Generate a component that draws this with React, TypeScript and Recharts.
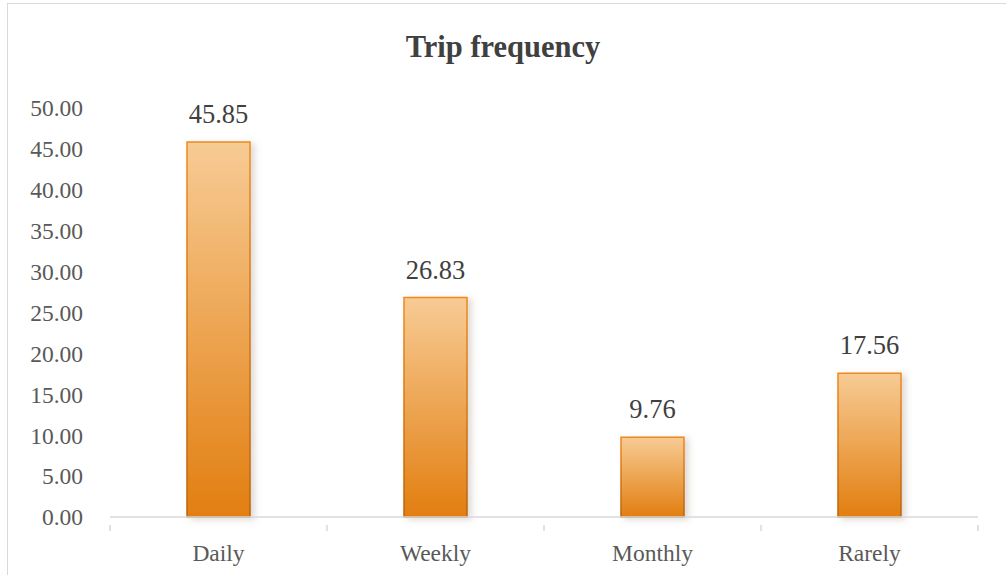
import React from "react";
import { BarChart, Bar, XAxis, YAxis, LabelList } from "recharts";

const categories = ["Daily", "Weekly", "Monthly", "Rarely"];
const shares = [45.85, 26.83, 9.76, 17.56];
const yTicks = [0, 5, 10, 15, 20, 25, 30, 35, 40, 45, 50];

const data = categories.map((name, i) => ({ name, value: shares[i] }));

const W = 1006;
const H = 575;
const MARGIN = { top: 108, right: 28, bottom: 28, left: 0 };
const Y_AXIS_W = 110;
const X_AXIS_H = 30;
const PLOT_W = W - MARGIN.left - MARGIN.right - Y_AXIS_W;
const BAND = PLOT_W / categories.length;

const FONT = '"Liberation Serif", "Times New Roman", serif';

// Category tick: label under the bar, tick marks on the category boundaries
const XTick = (props: any) => {
  const { x, y, payload, index } = props;
  const left = x - BAND / 2;
  const right = x + BAND / 2;
  return (
    <g>
      <line x1={left} x2={left} y1={y} y2={y + 6} stroke="#d9d9d9" strokeWidth={1.5} />
      {index === categories.length - 1 && (
        <line x1={right} x2={right} y1={y} y2={y + 6} stroke="#d9d9d9" strokeWidth={1.5} />
      )}
      <text x={x} y={y + 36} textAnchor="middle" fill="#595959" fontSize={23.5} fontFamily={FONT}>
        {payload.value}
      </text>
    </g>
  );
};

const ValueLabel = (props: any) => {
  const { x, y, width, value } = props;
  return (
    <text x={x + width / 2} y={y - 19} textAnchor="middle" fill="#404040" fontSize={26.5} fontFamily={FONT}>
      {Number(value).toFixed(2)}
    </text>
  );
};

export default function App() {
  return (
    <div style={{ position: "absolute", left: 0, top: 0, width: W, height: H, background: "#fff" }}>
      <div
        style={{
          position: "absolute",
          left: 7,
          top: 3,
          width: W + 10,
          height: H + 10,
          border: "1.5px solid #d9d9d9",
          boxSizing: "border-box",
        }}
      />
      <div style={{ position: "absolute", left: 0, top: 0 }}>
        <BarChart width={W} height={H} data={data} margin={MARGIN} barCategoryGap={77}>
          <defs>
            <linearGradient id="barFill" x1="0" y1="0" x2="0" y2="1">
              <stop offset="0%" stopColor="#f7cb95" />
              <stop offset="50%" stopColor="#eda552" />
              <stop offset="100%" stopColor="#e27e10" />
            </linearGradient>
            <linearGradient id="barStroke" x1="0" y1="0" x2="0" y2="1">
              <stop offset="0%" stopColor="#ee8a1c" />
              <stop offset="100%" stopColor="#b9640c" />
            </linearGradient>
            <filter id="barShadow" x="-20%" y="-10%" width="160%" height="130%">
              <feDropShadow dx="4" dy="2" stdDeviation="3" floodColor="#7f6a55" floodOpacity="0.25" />
            </filter>
          </defs>
          <text
            x={503}
            y={57}
            textAnchor="middle"
            fill="#404040"
            fontSize={30.5}
            fontWeight="bold"
            fontFamily={FONT}
          >
            Trip frequency
          </text>
          <XAxis
            dataKey="name"
            height={X_AXIS_H}
            axisLine={{ stroke: "#d9d9d9", strokeWidth: 1.5 }}
            tickLine={false}
            tick={<XTick />}
            interval={0}
          />
          <YAxis
            width={Y_AXIS_W}
            domain={[0, 50]}
            ticks={yTicks}
            axisLine={false}
            tickLine={false}
            tickSize={0}
            tickMargin={27}
            tickFormatter={(v: number) => v.toFixed(2)}
            tick={{ fill: "#595959", fontSize: 23.5, fontFamily: FONT }}
            interval={0}
          />
          <Bar
            dataKey="value"
            fill="url(#barFill)"
            stroke="url(#barStroke)"
            strokeWidth={1.5}
            filter="url(#barShadow)"
            isAnimationActive={false}
          >
            <LabelList dataKey="value" content={<ValueLabel />} />
          </Bar>
        </BarChart>
      </div>
    </div>
  );
}
